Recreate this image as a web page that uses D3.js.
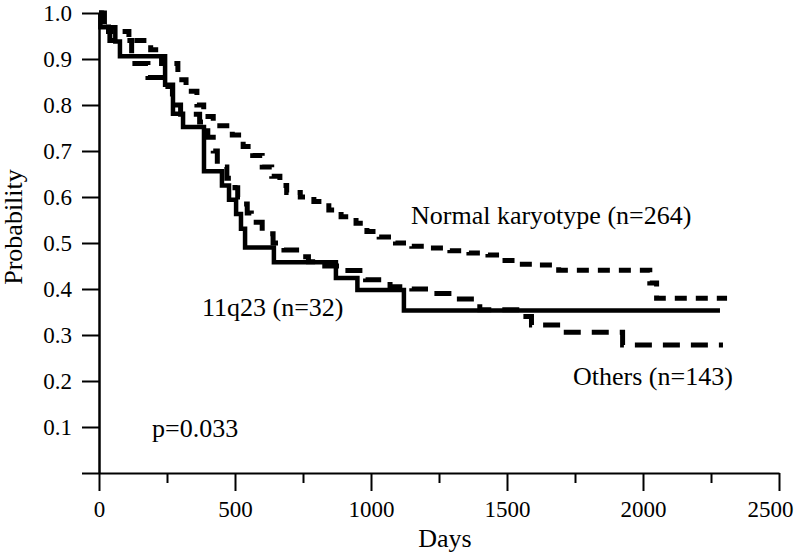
<!DOCTYPE html>
<html>
<head>
<meta charset="utf-8">
<script src="https://cdn.jsdelivr.net/npm/d3@7/dist/d3.min.js"></script>
<style>
  html, body { margin: 0; padding: 0; background: #fff; }
  svg { display: block; }
  text { font-family: "Liberation Serif", "Times New Roman", serif; fill: #000; }
</style>
</head>
<body>
<svg id="chart" width="798" height="553" font-family="Liberation Serif, serif"></svg>
<script>
// ---- data ----
const xMajorTicks = [0, 500, 1000, 1500, 2000, 2500];
const xMinorTicks = [250, 750, 1250, 1750, 2250];
const yTicks = [0, 0.1, 0.2, 0.3, 0.4, 0.5, 0.6, 0.7, 0.8, 0.9, 1.0];

// 11q23 (n=32) - solid
const q23Days = [0, 5, 60, 77, 243, 272, 309, 386, 452, 478, 504, 522, 537, 643, 871, 950, 1121, 2283];
const q23Prob = [1.0, 0.969, 0.938, 0.906, 0.844, 0.781, 0.752, 0.656, 0.625, 0.594, 0.563, 0.531, 0.49, 0.458, 0.424, 0.398, 0.353, 0.353];

// Normal karyotype (n=264) - short dashes
const normalDays = [0, 10, 35, 110, 190, 230, 290, 320, 360, 385, 420, 490, 530, 565, 600, 635, 665, 690, 740, 790, 845, 890, 945, 985, 1030, 1090, 1150, 1220, 1290, 1360, 1430, 1480, 1545, 1600, 1690, 2025, 2050, 2309];
const normalProb = [1.0, 0.98, 0.96, 0.94, 0.92, 0.89, 0.855, 0.83, 0.80, 0.775, 0.755, 0.735, 0.71, 0.69, 0.665, 0.645, 0.625, 0.61, 0.60, 0.59, 0.572, 0.557, 0.543, 0.525, 0.513, 0.50, 0.493, 0.489, 0.483, 0.478, 0.474, 0.462, 0.454, 0.452, 0.441, 0.413, 0.38, 0.38];

// Others (n=143) - long dashes
const othersDays = [0, 20, 40, 120, 180, 240, 270, 300, 370, 400, 420, 435, 470, 500, 510, 525, 545, 560, 600, 640, 680, 740, 770, 830, 900, 980, 1070, 1150, 1230, 1310, 1400, 1560, 1590, 1705, 1925, 2294];
const othersProb = [1.0, 0.97, 0.94, 0.89, 0.86, 0.84, 0.80, 0.78, 0.763, 0.73, 0.70, 0.665, 0.641, 0.62, 0.60, 0.585, 0.565, 0.545, 0.52, 0.50, 0.485, 0.47, 0.459, 0.45, 0.44, 0.42, 0.405, 0.40, 0.39, 0.378, 0.355, 0.34, 0.322, 0.306, 0.278, 0.278];

const labels = {
  normal: "Normal karyotype (n=264)",
  q23: "11q23 (n=32)",
  others: "Others (n=143)",
  p: "p=0.033",
  x: "Days",
  y: "Probability"
};

// ---- drawing ----
const svg = d3.select("#chart");
const x = d3.scaleLinear().domain([0, 2500]).range([99, 779]);
const y = d3.scaleLinear().domain([0, 1]).range([473, 13]);
const serif = '"Liberation Serif", "Times New Roman", serif';

// y axis
const yAxis = d3.axisLeft(y)
  .tickValues(yTicks)
  .tickSize(17)
  .tickSizeOuter(0)
  .tickPadding(10)
  .tickFormat(d => d === 0 ? "" : d3.format(".1f")(d));
const gy = svg.append("g").attr("transform", `translate(${x(0)},0)`).call(yAxis);
gy.attr("font-family", serif);
gy.selectAll("path.domain").attr("stroke", "#000").attr("stroke-width", 2.5);
gy.selectAll(".tick line").attr("stroke", "#000").attr("stroke-width", 2);
gy.selectAll(".tick text").style("font-size", "23px").style("font-family", serif);

// x axis major
const xAxis = d3.axisBottom(x)
  .tickValues(xMajorTicks)
  .tickSize(18)
  .tickSizeOuter(0)
  .tickPadding(10)
  .tickFormat(d3.format("d"));
const gx = svg.append("g").attr("transform", `translate(0,${y(0)})`).call(xAxis);
gx.attr("font-family", serif);
gx.selectAll("path.domain").attr("stroke", "#000").attr("stroke-width", 2);
gx.selectAll(".tick line").attr("stroke", "#000").attr("stroke-width", 2);
gx.selectAll(".tick text").style("font-size", "23px").style("font-family", serif)
  .attr("dx", d => d === 2500 ? -9 : 0);

// x axis minor
const xMinor = d3.axisBottom(x).tickValues(xMinorTicks).tickSize(10).tickSizeOuter(0).tickFormat("");
const gxm = svg.append("g").attr("transform", `translate(0,${y(0)})`).call(xMinor);
gxm.select("path.domain").remove();
gxm.selectAll(".tick line").attr("stroke", "#000").attr("stroke-width", 2);

// curves
const line = d3.line().x(d => x(d[0])).y(d => y(d[1])).curve(d3.curveStepAfter);
function pairs(ds, ps) { return ds.map((d, i) => [d, ps[i]]); }

svg.append("path").datum(pairs(othersDays, othersProb))
  .attr("d", line).attr("fill", "none").attr("stroke", "#000")
  .attr("stroke-width", 5).attr("stroke-dasharray", "17,11");
svg.append("path").datum(pairs(normalDays, normalProb))
  .attr("d", line).attr("fill", "none").attr("stroke", "#000")
  .attr("stroke-width", 5).attr("stroke-dasharray", "12,9");
svg.append("path").datum(pairs(q23Days, q23Prob))
  .attr("d", line).attr("fill", "none").attr("stroke", "#000")
  .attr("stroke-width", 4.5);

// annotations
svg.append("text").attr("x", 411).attr("y", 224).style("font-size", "26px").text(labels.normal);
svg.append("text").attr("x", 202).attr("y", 316).style("font-size", "26px").text(labels.q23);
svg.append("text").attr("x", 573).attr("y", 385).style("font-size", "26px").text(labels.others);
svg.append("text").attr("x", 152).attr("y", 437).style("font-size", "26px").text(labels.p);

// axis titles
svg.append("text").attr("x", 445).attr("y", 547).attr("text-anchor", "middle").style("font-size", "26px").text(labels.x);
svg.append("text").attr("transform", "translate(22,227) rotate(-90)").attr("text-anchor", "middle").style("font-size", "26px").text(labels.y);
</script>
</body>
</html>
